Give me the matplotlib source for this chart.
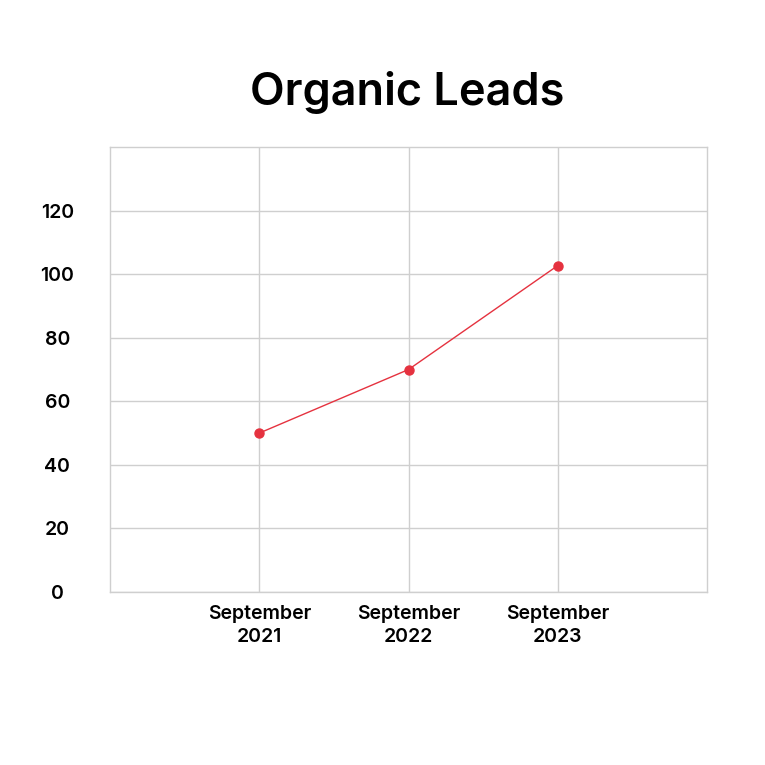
"""Organic Leads line chart."""

import matplotlib

matplotlib.use("Agg")
import matplotlib.pyplot as plt

PERIODS = ["September\n2021", "September\n2022", "September\n2023"]
LEADS = [50, 70, 102.7]
Y_TICKS = [0, 20, 40, 60, 80, 100, 120]

GRID_COLOR = "#cfcfcf"
LINE_COLOR = "#e5323f"

plt.rcParams["font.family"] = ["Inter", "DejaVu Sans"]


def main() -> None:
    fig = plt.figure(figsize=(7.65, 7.65), dpi=100)
    ax = fig.add_axes([0.1438, 0.2261, 0.7804, 0.5817])

    x = list(range(len(PERIODS)))
    ax.plot(x, LEADS, color=LINE_COLOR, linewidth=1, marker="o",
            markersize=6.5, zorder=3)

    ax.set_xlim(-1, len(PERIODS))
    ax.set_ylim(0, 140)
    ax.set_xticks(x)
    ax.set_xticklabels(PERIODS, fontsize=14, fontweight="semibold",
                       linespacing=1.4)
    ax.set_yticks(Y_TICKS)
    # labels sit a little above their grid lines in the reference
    ax.set_yticklabels([str(v) for v in Y_TICKS], fontsize=14,
                       fontweight="semibold", ha="center",
                       va="center_baseline")

    ax.tick_params(axis="both", length=0)
    ax.tick_params(axis="y", pad=38)
    ax.tick_params(axis="x", pad=9)
    ax.grid(True, color=GRID_COLOR, linewidth=1)
    ax.set_axisbelow(True)
    for spine in ax.spines.values():
        spine.set_color(GRID_COLOR)
        spine.set_linewidth(1)

    fig.text(0.532, 0.879, "Organic Leads", ha="center", va="center",
             fontsize=32.5, fontweight="semibold")

    fig.savefig("out.png", dpi=100, facecolor="white")
    plt.close(fig)


if __name__ == "__main__":
    main()
